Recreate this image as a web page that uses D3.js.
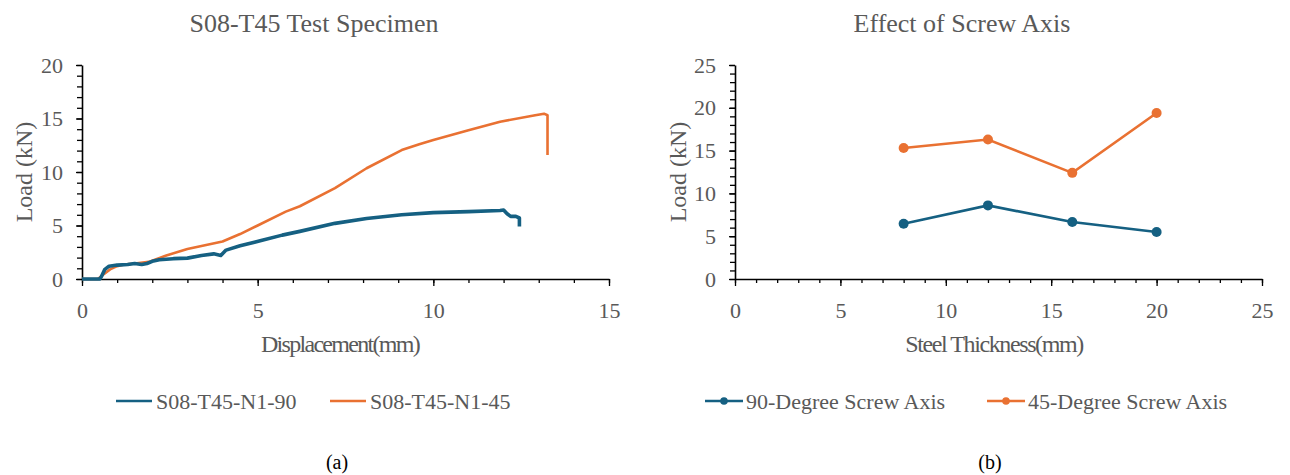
<!DOCTYPE html>
<html>
<head>
<meta charset="utf-8">
<script src="https://cdn.jsdelivr.net/npm/d3@7"></script>
<style>
  body { margin: 0; background: #fff; }
  svg { display: block; }
  text { font-family: "Liberation Serif", "Times New Roman", serif; }
</style>
</head>
<body>
<div id="chart"></div>
<script>
// ---- data ----
// panel (a): load vs displacement
const disp90 = [0, 0.5, 0.55, 0.65, 0.77, 1.0, 1.3, 1.5, 1.7, 1.85, 2.0, 2.2, 2.6, 3.0, 3.4, 3.75, 3.95, 4.1, 4.5, 5.1, 5.7, 6.2, 7.2, 8.1, 9.1, 10.0, 11.0, 11.9, 12.0, 12.1, 12.2, 12.35, 12.45, 12.45];
const load90 = [0, 0, 0.2, 0.9, 1.2, 1.3, 1.35, 1.45, 1.35, 1.45, 1.65, 1.8, 1.9, 1.95, 2.2, 2.35, 2.2, 2.7, 3.1, 3.6, 4.1, 4.45, 5.2, 5.65, 6.0, 6.2, 6.3, 6.4, 6.45, 6.1, 5.85, 5.85, 5.7, 4.9];
const disp45 = [0, 0.45, 0.6, 0.8, 1.0, 1.2, 1.5, 1.9, 2.4, 3.0, 3.5, 4.0, 4.5, 5.0, 5.8, 6.2, 7.2, 8.1, 9.1, 9.6, 10.0, 11.0, 11.9, 12.9, 13.15, 13.25, 13.25];
const load45 = [0, 0, 0.4, 0.9, 1.2, 1.35, 1.45, 1.6, 2.2, 2.8, 3.15, 3.5, 4.2, 5.0, 6.3, 6.8, 8.5, 10.35, 12.05, 12.6, 13.0, 13.9, 14.7, 15.3, 15.45, 15.3, 11.6];
const seriesA = ["S08-T45-N1-90", "S08-T45-N1-45"];

// panel (b): load vs steel thickness
const thickness = [8, 12, 16, 20];
const deg90 = [6.45, 8.6, 6.65, 5.5];
const deg45 = [15.3, 16.3, 12.4, 19.4];
const seriesB = ["90-Degree Screw Axis", "45-Degree Screw Axis"];

// ticks
const ticksAX = [0, 5, 10, 15];
const ticksAY = [0, 5, 10, 15, 20];
const ticksBX = [0, 5, 10, 15, 20, 25];
const ticksBY = [0, 5, 10, 15, 20, 25];

// ---- setup ----
const W = 1290, H = 475;
const blue = "#156082", orange = "#E97132", grey = "#595959";
const font = "'Liberation Serif', 'Times New Roman', serif";

const svg = d3.select("#chart").append("svg")
  .attr("width", W)
  .attr("height", H)
  .attr("font-family", font);

// draws both axes (major + minor ticks) of one panel
function drawAxes(x, y, xt, yt) {
  const bottom = y.range()[0];
  // minor ticks every 1 unit
  svg.append("g")
    .attr("transform", `translate(0,${bottom})`)
    .call(d3.axisBottom(x).tickValues(d3.range(x.domain()[0], x.domain()[1] + 1)).tickSize(4).tickFormat(""))
    .call(g => g.select(".domain").remove());
  svg.append("g")
    .attr("transform", `translate(${x.range()[0]},0)`)
    .call(d3.axisLeft(y).tickValues(d3.range(y.domain()[0], y.domain()[1] + 1)).tickSize(5).tickFormat(""))
    .call(g => g.select(".domain").remove());
  // major ticks + labels
  const gx = svg.append("g")
    .attr("transform", `translate(0,${bottom})`)
    .call(d3.axisBottom(x).tickValues(xt).tickSize(7).tickSizeOuter(0).tickPadding(16).tickFormat(d3.format("d")));
  const gy = svg.append("g")
    .attr("transform", `translate(${x.range()[0]},0)`)
    .call(d3.axisLeft(y).tickValues(yt).tickSize(6).tickSizeOuter(0).tickPadding(13).tickFormat(d3.format("d")));
  [gx, gy].forEach(g => {
    g.attr("font-family", font).attr("font-size", 22);
    g.select(".domain").attr("stroke", "#000").attr("stroke-width", 1.6);
    g.selectAll(".tick text").attr("fill", grey);
  });
  svg.selectAll("g .tick line").attr("stroke", "#000").attr("stroke-width", 1.3);
}

function title(text, cx, y, size, extra) {
  const t = svg.append("text")
    .text(text)
    .attr("x", cx)
    .attr("y", y)
    .attr("text-anchor", "middle")
    .attr("fill", grey)
    .attr("font-size", size);
  if (extra) extra(t);
  return t;
}

// ---- panel (a) ----
const xA = d3.scaleLinear().domain([0, 15]).range([82, 609]);
const yA = d3.scaleLinear().domain([0, 20]).range([279, 65]);
drawAxes(xA, yA, ticksAX, ticksAY);

const lineA = d3.line().x(d => xA(d[0])).y(d => yA(d[1]));
svg.append("path")
  .datum(d3.zip(disp45, load45))
  .attr("fill", "none")
  .attr("stroke", orange)
  .attr("stroke-width", 2.6)
  .attr("stroke-linejoin", "round")
  .attr("d", lineA);
svg.append("path")
  .datum(d3.zip(disp90, load90))
  .attr("fill", "none")
  .attr("stroke", blue)
  .attr("stroke-width", 3.6)
  .attr("stroke-linejoin", "round")
  .attr("d", lineA);

title("S08-T45 Test Specimen", 314, 32, 26);
title("Displacement(mm)", 340, 352, 24, t => t.style("letter-spacing", "-1.7px"));
title("Load (kN)", 0, 0, 24, t => t.attr("transform", "translate(32,172) rotate(-90)"));

// legend (a)
const legA = [
  { name: seriesA[0], color: blue, x: 116 },
  { name: seriesA[1], color: orange, x: 330 }
];
legA.forEach(d => {
  svg.append("line")
    .attr("x1", d.x).attr("x2", d.x + 36)
    .attr("y1", 401).attr("y2", 401)
    .attr("stroke", d.color).attr("stroke-width", 2.6);
  svg.append("text")
    .text(d.name)
    .attr("x", d.x + 40).attr("y", 409)
    .attr("fill", grey)
    .attr("font-size", 22);
});

svg.append("text").text("(a)")
  .attr("x", 337).attr("y", 469)
  .attr("text-anchor", "middle")
  .attr("fill", "#000")
  .attr("font-size", 20);

// ---- panel (b) ----
const xB = d3.scaleLinear().domain([0, 25]).range([735, 1262]);
const yB = d3.scaleLinear().domain([0, 25]).range([279, 65]);
drawAxes(xB, yB, ticksBX, ticksBY);

const lineB = d3.line().x(d => xB(d[0])).y(d => yB(d[1]));
[[deg45, orange], [deg90, blue]].forEach(([vals, color]) => {
  const pts = d3.zip(thickness, vals);
  svg.append("path")
    .datum(pts)
    .attr("fill", "none")
    .attr("stroke", color)
    .attr("stroke-width", 2.6)
    .attr("d", lineB);
  svg.append("g").selectAll("circle")
    .data(pts)
    .join("circle")
      .attr("cx", d => xB(d[0]))
      .attr("cy", d => yB(d[1]))
      .attr("r", 5)
      .attr("fill", color);
});

title("Effect of Screw Axis", 962, 32, 26);
title("Steel Thickness(mm)", 994, 352, 24, t => t.style("letter-spacing", "-1.4px"));
title("Load (kN)", 0, 0, 24, t => t.attr("transform", "translate(686,172) rotate(-90)"));

// legend (b)
const legB = [
  { name: seriesB[0], color: blue, x: 705 },
  { name: seriesB[1], color: orange, x: 987 }
];
legB.forEach(d => {
  svg.append("line")
    .attr("x1", d.x).attr("x2", d.x + 38)
    .attr("y1", 401).attr("y2", 401)
    .attr("stroke", d.color).attr("stroke-width", 2.6);
  svg.append("circle")
    .attr("cx", d.x + 19).attr("cy", 401).attr("r", 3.8)
    .attr("fill", d.color);
  svg.append("text")
    .text(d.name)
    .attr("x", d.x + 41).attr("y", 409)
    .attr("fill", grey)
    .attr("font-size", 22);
});

svg.append("text").text("(b)")
  .attr("x", 990).attr("y", 469)
  .attr("text-anchor", "middle")
  .attr("fill", "#000")
  .attr("font-size", 20);
</script>
</body>
</html>
